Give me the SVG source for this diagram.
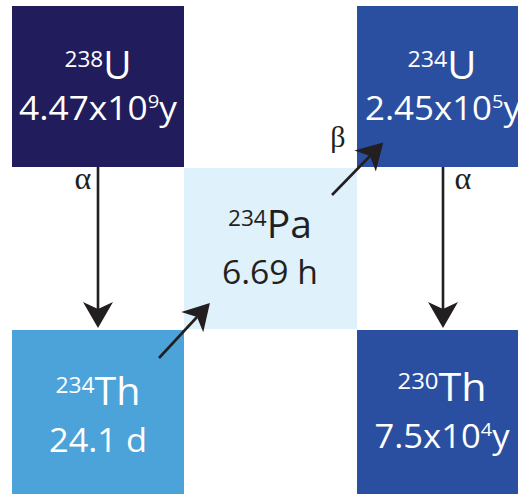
<svg xmlns="http://www.w3.org/2000/svg" width="518" height="494" viewBox="0 0 518 494">
<style>
.el{font-family:"Open Sans","Noto Sans",sans-serif;font-size:38px;fill:#fff;text-anchor:middle}
.hl{font-family:"Open Sans","Noto Sans",sans-serif;font-size:33px;fill:#fff;text-anchor:middle}
.sup{font-size:22px}
.sup2{font-size:19px}
.dark{fill:#231f20}
.conn{stroke:#231f20;stroke-width:2.6;fill:none}
.greek{font-family:"Liberation Serif","DejaVu Serif",serif;fill:#231f20;text-anchor:middle}
</style>
<defs>
<marker id="ah" markerUnits="userSpaceOnUse" markerWidth="40" markerHeight="40" refX="7" refY="0" orient="auto" overflow="visible">
<path d="M26,0 L0,-15 L7,0 L0,15 Z" fill="#231f20"/>
</marker>
</defs>
<rect width="518" height="494" fill="#fff"/>
<g id="u238">
<rect x="12" y="6" width="172" height="161" fill="#211c5c"/>
<text class="el" x="98" y="79" textLength="67" lengthAdjust="spacingAndGlyphs"><tspan class="sup" dy="-12">238</tspan><tspan dy="12">U</tspan></text>
<text class="hl" x="98" y="120" textLength="158" lengthAdjust="spacingAndGlyphs">4.47x10<tspan class="sup2" dy="-12">9</tspan><tspan dy="12">y</tspan></text>
</g>
<g id="u234">
<rect x="357" y="6" width="170" height="161" fill="#2b4fa0"/>
<text class="el" x="442" y="79" textLength="69" lengthAdjust="spacingAndGlyphs"><tspan class="sup" dy="-12">234</tspan><tspan dy="12">U</tspan></text>
<text class="hl" x="443" y="120" textLength="156" lengthAdjust="spacingAndGlyphs">2.45x10<tspan class="sup2" dy="-12">5</tspan><tspan dy="12">y</tspan></text>
</g>
<g id="pa234">
<rect x="184" y="168" width="173" height="161" fill="#dff1fb"/>
<text class="el dark" x="270" y="238" textLength="84" lengthAdjust="spacingAndGlyphs"><tspan class="sup" dy="-12">234</tspan><tspan dy="12">Pa</tspan></text>
<text class="hl dark" x="270" y="284" textLength="96" lengthAdjust="spacingAndGlyphs">6.69 h</text>
</g>
<g id="th234">
<rect x="12" y="330" width="172" height="164" fill="#4ba3da"/>
<text class="el" x="98" y="405" textLength="85" lengthAdjust="spacingAndGlyphs"><tspan class="sup" dy="-12">234</tspan><tspan dy="12">Th</tspan></text>
<text class="hl" x="98" y="452" textLength="98" lengthAdjust="spacingAndGlyphs">24.1 d</text>
</g>
<g id="th230">
<rect x="357" y="330" width="170" height="164" fill="#2b4fa0"/>
<text class="el" x="442" y="401" textLength="89" lengthAdjust="spacingAndGlyphs"><tspan class="sup" dy="-12">230</tspan><tspan dy="12">Th</tspan></text>
<text class="hl" x="442" y="448" textLength="135" lengthAdjust="spacingAndGlyphs">7.5x10<tspan class="sup2" dy="-12">4</tspan><tspan dy="12">y</tspan></text>
</g>
<g id="connectors">
<line class="conn" x1="98" y1="167" x2="98" y2="309" marker-end="url(#ah)"/>
<line class="conn" x1="443" y1="167" x2="443" y2="309" marker-end="url(#ah)"/>
<line class="conn" x1="159" y1="358" x2="197" y2="317" marker-end="url(#ah)"/>
<line class="conn" x1="332" y1="195" x2="370" y2="156" marker-end="url(#ah)"/>
<text class="greek" x="83" y="189" font-size="32">α</text>
<text class="greek" x="463" y="189" font-size="32">α</text>
<text class="greek" x="338" y="147" font-size="30">β</text>
</g>
</svg>
